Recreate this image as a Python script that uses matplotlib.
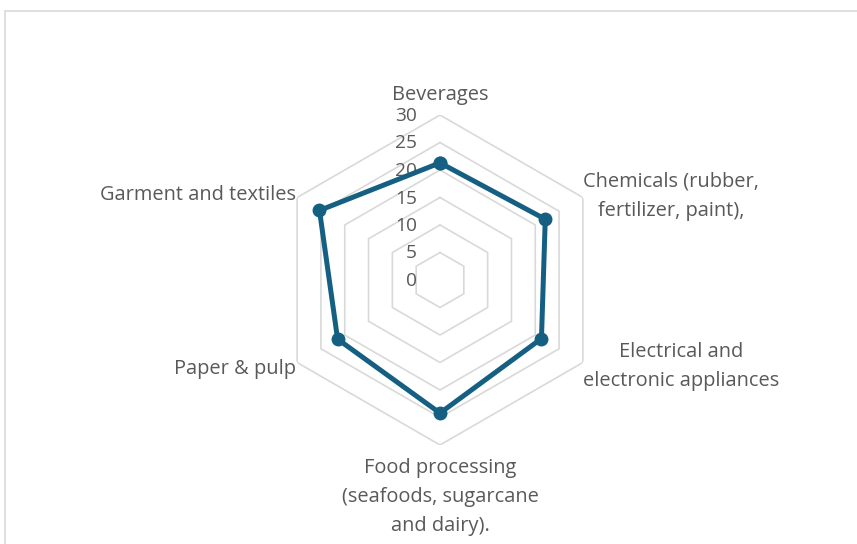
import numpy as np
import matplotlib.pyplot as plt
from matplotlib.patches import Rectangle
from matplotlib.transforms import offset_copy

categories = [
    "Beverages",
    "Chemicals (rubber,\nfertilizer, paint),",
    "Electrical and\nelectronic appliances",
    "Food processing\n(seafoods, sugarcane\nand dairy).",
    "Paper & pulp",
    "Garment and textiles",
]
values = [21.3, 22.1, 21.3, 24.2, 21.5, 25.3]
ticks = [0, 5, 10, 15, 20, 25, 30]

LINE = "#156082"
GRID = "#d9d9d9"
TEXT = "#595959"
FONT = "Open Sans"
FS = 14.4

W, H = 857, 544
fig = plt.figure(figsize=(W / 100, H / 100), dpi=100)
fig.patch.set_facecolor("white")

# chart-area border
fig.patches.append(Rectangle((5 / W, -0.1), 1.2, 1.1 - 11 / H, transform=fig.transFigure,
                             fill=False, edgecolor=GRID, linewidth=1.2))

cx, cy, R = 440, 280, 165
ax = fig.add_axes([(cx - R) / W, (H - cy - R) / H, 2 * R / W, 2 * R / H], projection="polar")
ax.set_theta_zero_location("N")
ax.set_theta_direction(-1)
ax.set_ylim(0, ticks[-1])
ax.grid(False)
ax.spines["polar"].set_visible(False)
ax.set_xticks([])
ax.set_yticks([])
ax.patch.set_alpha(0)

n = len(categories)
angles = np.arange(n) * 2 * np.pi / n
closed = np.append(angles, angles[0])

# hexagonal gridlines
for t in ticks[1:]:
    ax.plot(closed, [t] * (n + 1), color=GRID, lw=1.2, zorder=1)

# radial value labels
lab_tr = offset_copy(ax.transData, fig=fig, x=-23, y=-1, units="dots")
for t in ticks:
    ax.text(0, t, str(t), transform=lab_tr, ha="right", va="center",
            fontsize=13.8, color=TEXT, family=FONT, zorder=2)

# data series
ax.plot(closed, values + values[:1], color=LINE, lw=3.6, marker="o", ms=9,
        solid_joinstyle="round", zorder=3)

# category labels placed just outside the outer ring
outer = ticks[-1]
spec = [
    dict(ha="center", va="bottom", dx=0, dy=10),
    dict(ha="left", va="center", dx=0, dy=1),
    dict(ha="left", va="center", dx=0, dy=-4),
    dict(ha="center", va="top", dx=0, dy=-13),
    dict(ha="right", va="center", dx=-1, dy=-6),
    dict(ha="right", va="center", dx=-1, dy=2),
]
for ang, cat, s in zip(angles, categories, spec):
    tr = offset_copy(ax.transData, fig=fig, x=s["dx"], y=s["dy"], units="dots")
    ax.text(ang, outer, cat, transform=tr, ha=s["ha"], va=s["va"],
            multialignment="center", linespacing=1.6,
            fontsize=FS, color=TEXT, family=FONT, clip_on=False)

fig.savefig("out.png", dpi=100, facecolor="white")
